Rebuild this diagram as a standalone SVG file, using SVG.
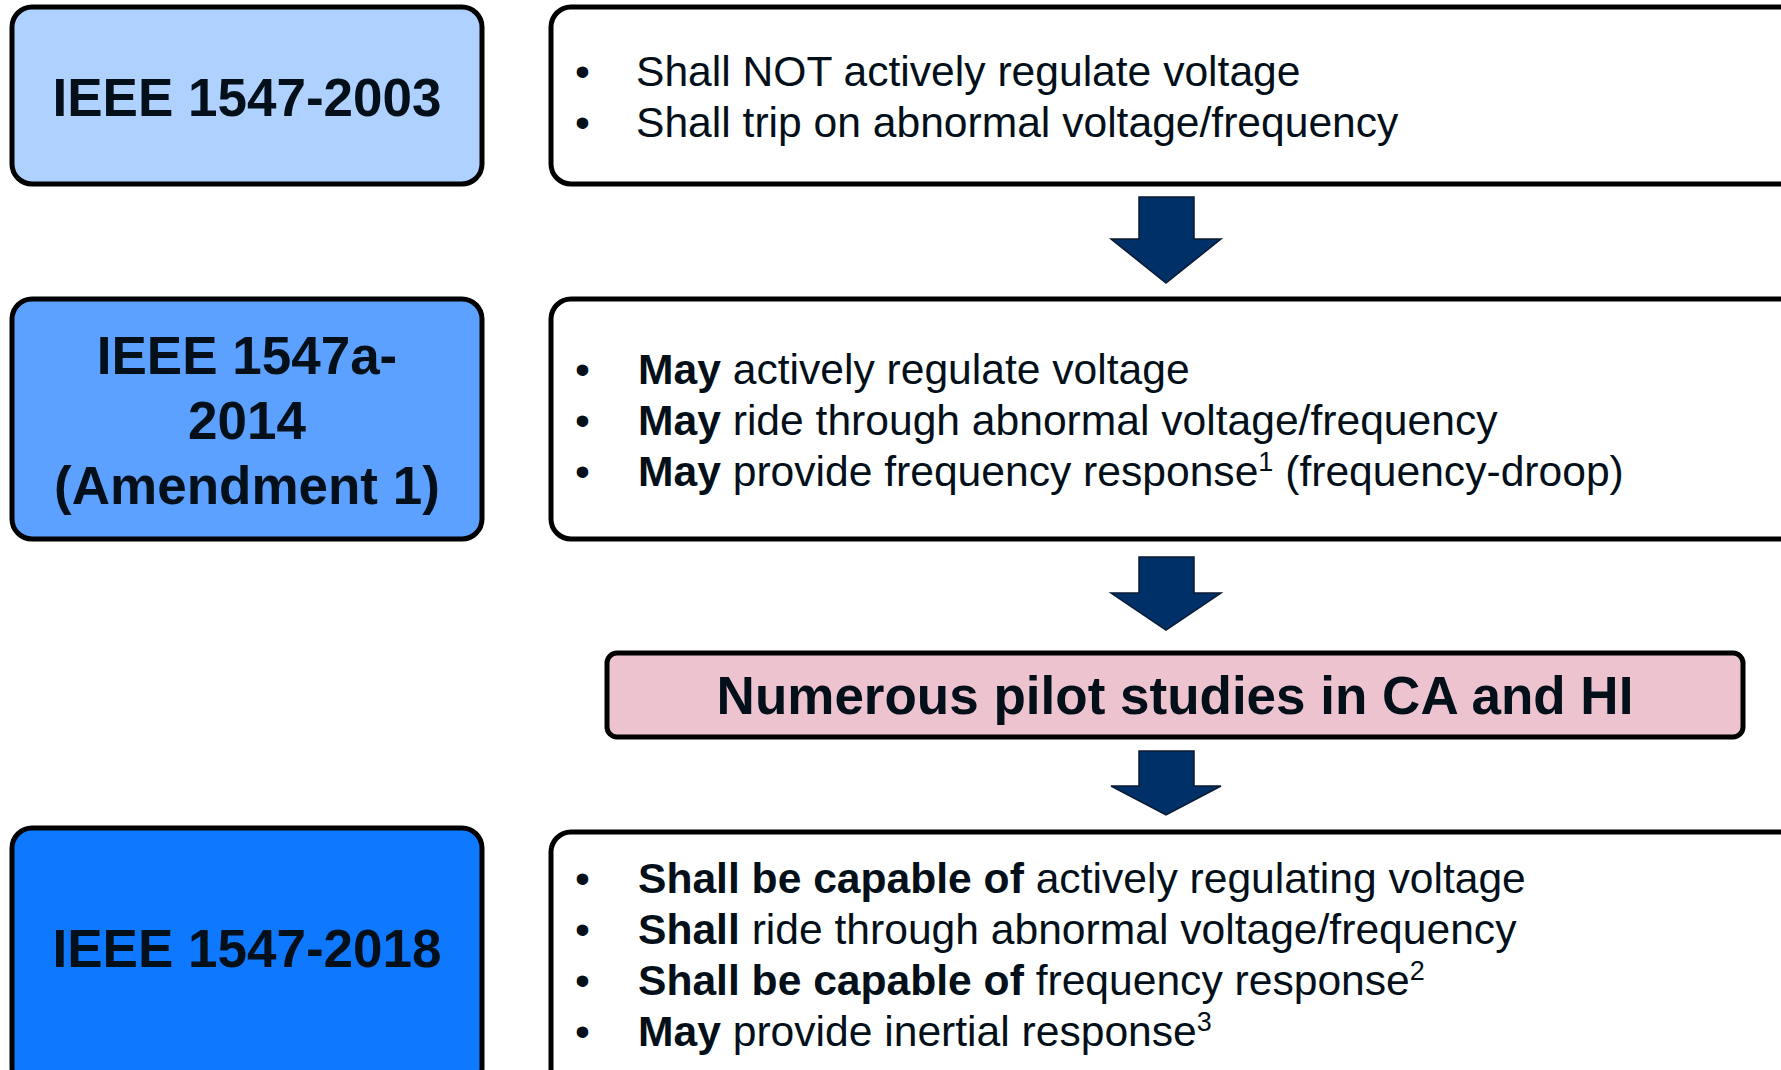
<svg xmlns="http://www.w3.org/2000/svg" width="1781" height="1070" viewBox="0 0 1781 1070">
<style>
.box{stroke:#000;stroke-width:5}
.title{font-family:"Liberation Sans",Arial,sans-serif;font-weight:bold;font-size:53px;fill:#03101a;text-anchor:middle}
.body{font-family:"Liberation Sans",Arial,sans-serif;font-size:42.6px;fill:#03101a}
.b{font-weight:bold}
.arrow{fill:#003068;stroke:#0a1a30;stroke-width:1.5}
.sup{font-size:27px}
</style>
<rect width="1781" height="1070" fill="#fff"/>
<g id="n2003">
<rect class="box" x="12" y="7" width="470" height="177" rx="20" fill="#aed1ff"/>
<text class="title" x="247" y="116">IEEE 1547-2003</text>
</g>
<g id="r2003">
<rect class="box" x="551" y="7" width="1260" height="177" rx="20" fill="#fff"/>
<text class="body" x="575" y="86">•</text>
<text class="body" x="636" y="86">Shall NOT actively regulate voltage</text>
<text class="body" x="575" y="137">•</text>
<text class="body" x="636" y="137">Shall trip on abnormal voltage/frequency</text>
</g>
<g id="n2014">
<rect class="box" x="12" y="299" width="470" height="240" rx="20" fill="#5ca1ff"/>
<text class="title" x="247" y="374">IEEE 1547a-</text>
<text class="title" x="247" y="439">2014</text>
<text class="title" x="247" y="504">(Amendment 1)</text>
</g>
<g id="r2014">
<rect class="box" x="551" y="299" width="1260" height="240" rx="20" fill="#fff"/>
<text class="body" x="575" y="384">•</text>
<text class="body" x="638" y="384"><tspan class="b">May</tspan> actively regulate voltage</text>
<text class="body" x="575" y="435">•</text>
<text class="body" x="638" y="435"><tspan class="b">May</tspan> ride through abnormal voltage/frequency</text>
<text class="body" x="575" y="486">•</text>
<text class="body" x="638" y="486"><tspan class="b">May</tspan> provide frequency response<tspan class="sup" dy="-15">1</tspan><tspan dy="15"> (frequency-droop)</tspan></text>
</g>
<g id="pilot">
<rect class="box" x="607" y="653" width="1136" height="84" rx="10" fill="#edc3cf"/>
<text class="title" x="1175" y="714">Numerous pilot studies in CA and HI</text>
</g>
<g id="n2018">
<rect class="box" x="12" y="828" width="470" height="260" rx="20" fill="#0e78ff"/>
<text class="title" x="247" y="967">IEEE 1547-2018</text>
</g>
<g id="r2018">
<rect class="box" x="551" y="832" width="1260" height="260" rx="20" fill="#fff"/>
<text class="body" x="575" y="893">•</text>
<text class="body" x="638" y="893"><tspan class="b">Shall be capable of</tspan> actively regulating voltage</text>
<text class="body" x="575" y="944">•</text>
<text class="body" x="638" y="944"><tspan class="b">Shall</tspan> ride through abnormal voltage/frequency</text>
<text class="body" x="575" y="995">•</text>
<text class="body" x="638" y="995"><tspan class="b">Shall be capable of</tspan> frequency response<tspan class="sup" dy="-15">2</tspan></text>
<text class="body" x="575" y="1046">•</text>
<text class="body" x="638" y="1046"><tspan class="b">May</tspan> provide inertial response<tspan class="sup" dy="-15">3</tspan></text>
</g>
<g id="connectors">
<polygon class="arrow" points="1139,197 1194,197 1194,239 1221,239 1166,283 1111,239 1139,239"/>
<polygon class="arrow" points="1139,557 1194,557 1194,593 1221,593 1166,630 1111,593 1139,593"/>
<polygon class="arrow" points="1139,751 1194,751 1194,786 1221,786 1166,815 1111,786 1139,786"/>
</g>
</svg>
